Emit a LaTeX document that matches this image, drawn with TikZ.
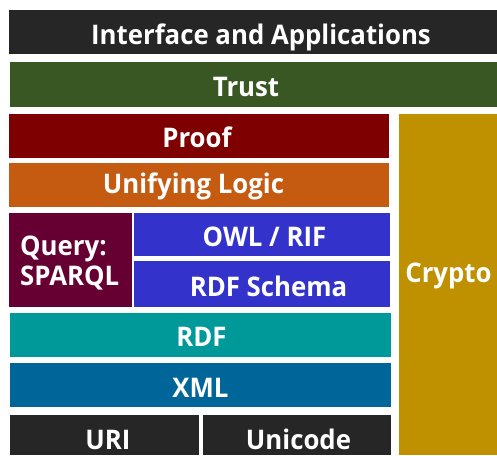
\documentclass[tikz,border=0pt]{standalone}
\usepackage{fontspec}
\setmainfont{Open Sans}[FakeStretch=0.955]
\definecolor{cDark}{HTML}{262626}
\definecolor{cTrust}{HTML}{385723}
\definecolor{cProof}{HTML}{7F0000}
\definecolor{cLogic}{HTML}{C55A11}
\definecolor{cQuery}{HTML}{660033}
\definecolor{cOwl}{HTML}{3333CC}
\definecolor{cRdf}{HTML}{009999}
\definecolor{cXml}{HTML}{006699}
\definecolor{cCrypto}{HTML}{BF9000}
\tikzset{
  layer/.style={rectangle, inner sep=0pt, outer sep=0pt, draw=none},
  lbl/.style={anchor=base, inner sep=0pt, text=white,
    font=\fontsize{27}{30}\selectfont\bfseries},
}
\begin{document}
\begin{tikzpicture}[x=1pt,y=-1pt]
\useasboundingbox (0,0) rectangle (497,455);
% layers of the stack
\node[layer, fill=cDark,   minimum width=488pt, minimum height=44pt] (iface) at (253,32) {};
\node[layer, fill=cTrust,  minimum width=487pt, minimum height=45pt] (trust) at (253.5,84.5) {};
\node[layer, fill=cProof,  minimum width=380pt, minimum height=44pt] (proof) at (199,136) {};
\node[layer, fill=cLogic,  minimum width=380pt, minimum height=44pt] (logic) at (199,185) {};
\node[layer, fill=cQuery,  minimum width=123pt, minimum height=94pt] (query) at (70.5,260) {};
\node[layer, fill=cOwl,    minimum width=256pt, minimum height=43pt] (owl) at (262,234.5) {};
\node[layer, fill=cOwl,    minimum width=256pt, minimum height=46pt] (rdfs) at (262,284) {};
\node[layer, fill=cRdf,    minimum width=381pt, minimum height=44pt] (rdf) at (200.5,335) {};
\node[layer, fill=cXml,    minimum width=381pt, minimum height=44pt] (xml) at (200.5,385) {};
\node[layer, fill=cDark,   minimum width=189pt, minimum height=40pt] (uri) at (104.5,435) {};
\node[layer, fill=cDark,   minimum width=188pt, minimum height=40pt] (unicode) at (297,435) {};
\node[layer, fill=cCrypto, minimum width=98pt,  minimum height=341pt] (crypto) at (448,284.5) {};
% labels
\node[lbl] (tIface) at (261,44) {Interface and Applications};
\node[lbl] (tTrust) at (246,96) {Trust};
\node[lbl] (tProof) at (197,147) {Proof};
\node[lbl] (tLogic) at (193.5,193) {Unifying Logic};
\node[lbl, anchor=base west] (tQuery1) at (20,255) {Query:};
\node[lbl, anchor=base west] (tQuery2) at (20,285) {SPARQL};
\node[lbl] (tOwl) at (264.5,246) {OWL / RIF};
\node[lbl] (tRdfs) at (268.5,296) {RDF Schema};
\node[lbl] (tRdf) at (201.5,346) {RDF};
\node[lbl] (tXml) at (200.5,397) {XML};
\node[lbl] (tUri) at (108,449) {URI};
\node[lbl] (tUnicode) at (298.5,449) {Unicode};
\node[lbl] (tCrypto) at (448.5,282) {Crypto};
\end{tikzpicture}
\end{document}
